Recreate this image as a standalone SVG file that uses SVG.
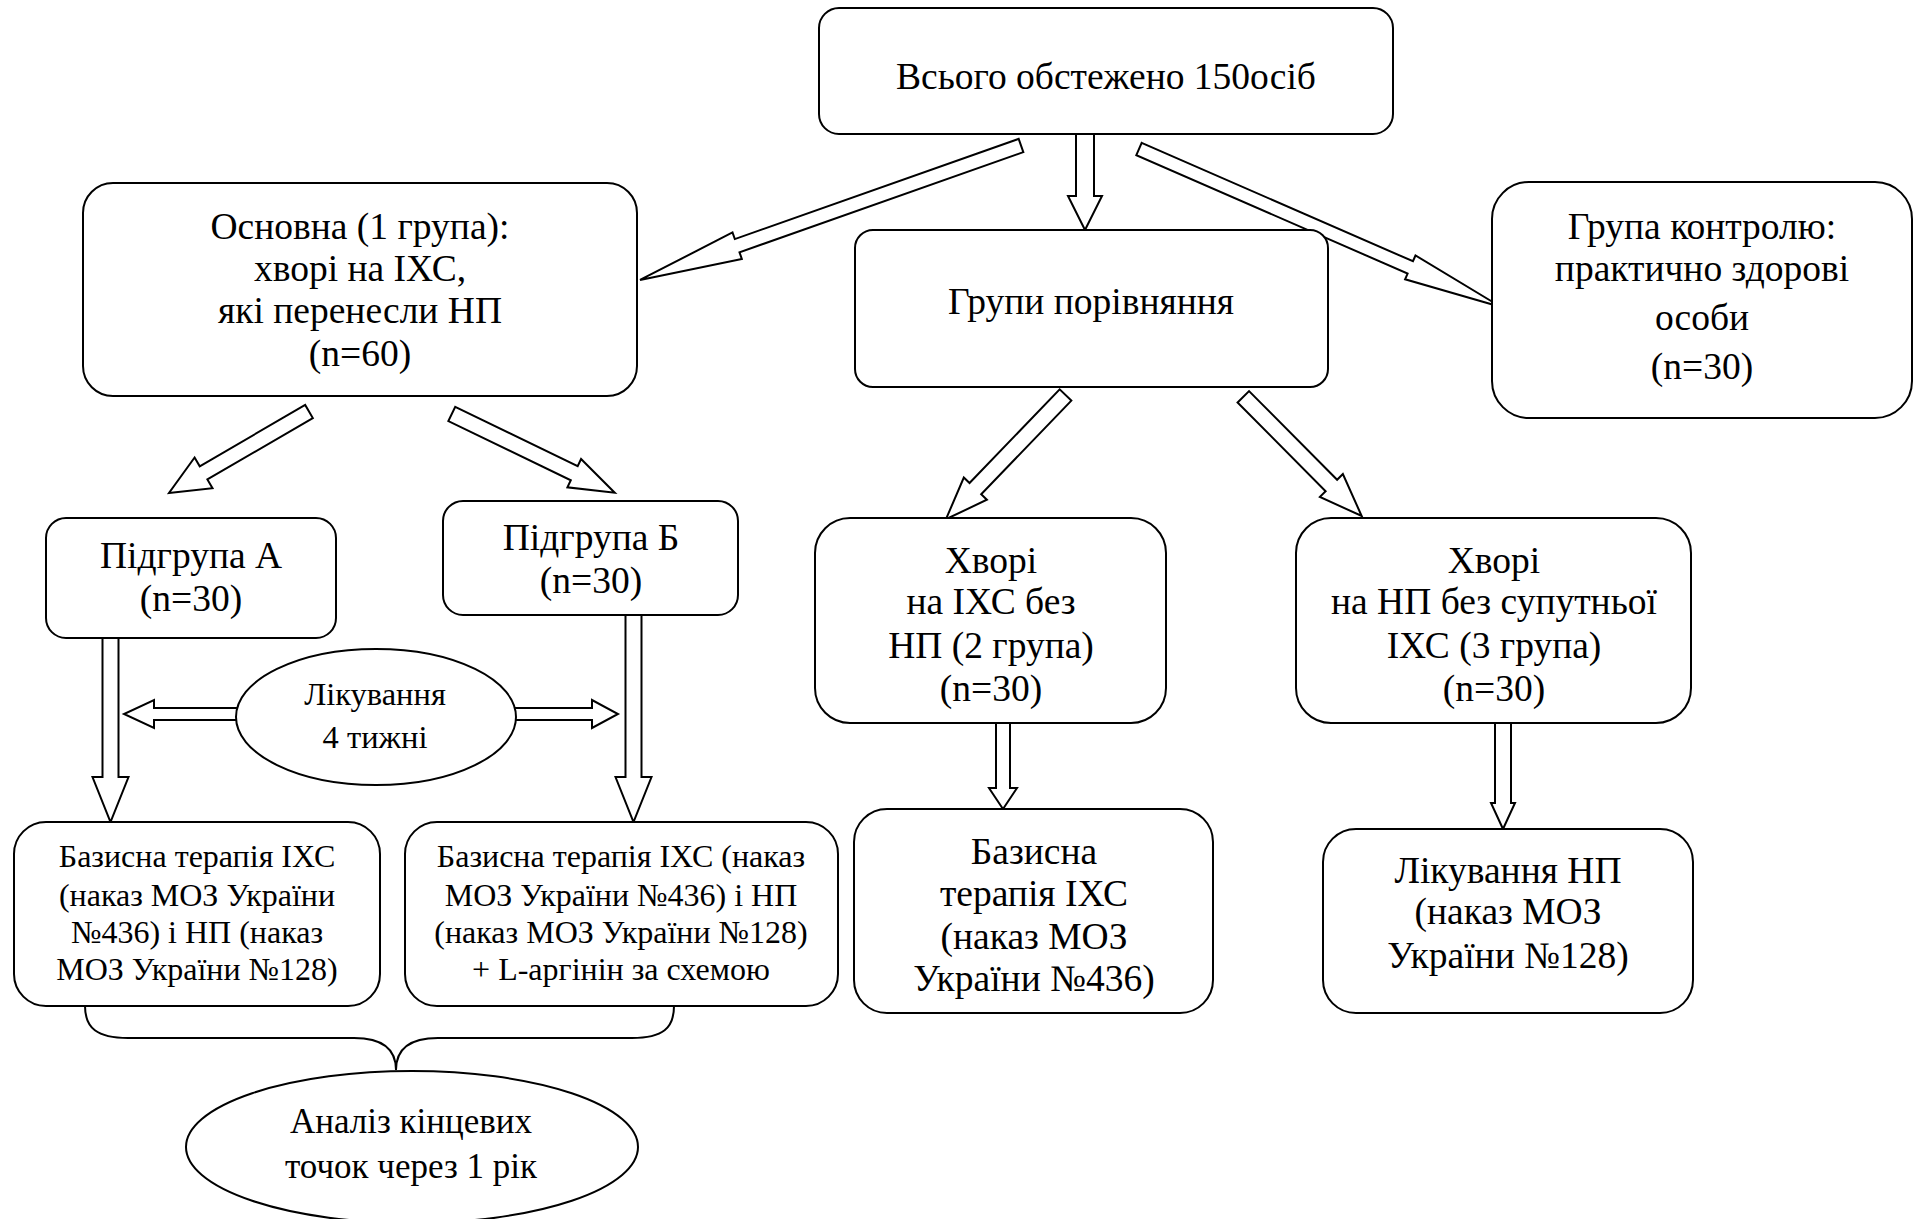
<svg xmlns="http://www.w3.org/2000/svg" width="1921" height="1219" viewBox="0 0 1921 1219">
<style>
.box{fill:#fff;stroke:#000;stroke-width:2}
.arr{fill:#fff;stroke:#000;stroke-width:2;stroke-linejoin:miter}
.brace{fill:none;stroke:#000;stroke-width:2}
text{font-family:"Liberation Serif","Times New Roman",serif;fill:#000;text-anchor:middle}
.t37{font-size:37.5px}
.t32{font-size:32px}
.t325{font-size:32.5px}
.t35{font-size:35px}
</style>
<rect width="1921" height="1219" fill="#fff"/>
<g id="connectors">
<polygon class="arr" points="0,-7 301,-7 301,-14 404,0 301,14 301,7 0,7" transform="translate(1021,145.5) rotate(160.56)"/>
<polygon class="arr" points="1076,134 1076,196 1068,196 1085,230 1102,196 1094,196 1094,134"/>
<polygon class="arr" points="0,-6.7 296,-6.7 296,-13 395,0 296,13 296,6.7 0,6.7" transform="translate(1139,149) rotate(23.58)"/>
<polygon class="arr" points="0,-7.6 122,-7.6 122,-17.8 162,0 122,17.8 122,7.6 0,7.6" transform="translate(309,411.5) rotate(149.8)"/>
<polygon class="arr" points="0,-7.9 136,-7.9 136,-15.7 181,0 136,15.7 136,7.9 0,7.9" transform="translate(451.8,414) rotate(25.8)"/>
<polygon class="arr" points="0,-8.1 130,-8.1 130,-16 172.4,0 130,16 130,8.1 0,8.1" transform="translate(1065.5,395) rotate(133.9)"/>
<polygon class="arr" points="0,-8.1 125,-8.1 125,-16.2 168,0 125,16.2 125,8.1 0,8.1" transform="translate(1243.3,396.8) rotate(45.2)"/>
<polygon class="arr" points="102.5,638 102.5,777 92.5,777 110.5,822 128.5,777 118.5,777 118.5,638"/>
<polygon class="arr" points="625.5,615 625.5,777 615.5,777 633.5,822 651.5,777 641.5,777 641.5,615"/>
<polygon class="arr" points="240,708 154,708 154,700 124,714 154,728 154,720 240,720"/>
<polygon class="arr" points="512,708 592,708 592,700 618,714 592,728 592,720 512,720"/>
<polygon class="arr" points="996,723 996,788 989,788 1003,809 1017,788 1010,788 1010,723"/>
<polygon class="arr" points="1495,723 1495,803 1491,803 1503,829 1515,803 1511,803 1511,723"/>
<path class="brace" d="M85,1006 C85,1028 97,1038 128,1038 L354,1038 C384,1038 396,1050 396,1070 C396,1050 408,1038 438,1038 L632,1038 C663,1038 674,1028 674,1006"/>
</g>
<g id="n-total">
<rect class="box" x="819" y="8" width="574" height="126" rx="20"/>
<text class="t37" x="1106" y="89">Всього обстежено 150осіб</text>
</g>
<g id="n-main">
<rect class="box" x="83" y="183" width="554" height="213" rx="30"/>
<text class="t37"><tspan x="360" y="239">Основна (1 група):</tspan><tspan x="360" y="281">хворі на ІХС,</tspan><tspan x="360" y="323">які перенесли НП</tspan><tspan x="360" y="366">(n=60)</tspan></text>
</g>
<g id="n-compare">
<rect class="box" x="855" y="230" width="473" height="157" rx="18"/>
<text class="t37" x="1091" y="314">Групи порівняння</text>
</g>
<g id="n-control">
<rect class="box" x="1492" y="182" width="420" height="236" rx="37"/>
<text class="t37"><tspan x="1702" y="239">Група контролю:</tspan><tspan x="1702" y="281">практично здорові</tspan><tspan x="1702" y="330">особи</tspan><tspan x="1702" y="379">(n=30)</tspan></text>
</g>
<g id="n-subA">
<rect class="box" x="46" y="518" width="290" height="120" rx="20"/>
<text class="t37"><tspan x="191" y="568">Підгрупа А</tspan><tspan x="191" y="611">(n=30)</tspan></text>
</g>
<g id="n-subB">
<rect class="box" x="443" y="501" width="295" height="114" rx="20"/>
<text class="t37"><tspan x="591" y="550">Підгрупа Б</tspan><tspan x="591" y="593">(n=30)</tspan></text>
</g>
<g id="n-group2">
<rect class="box" x="815" y="518" width="351" height="205" rx="35"/>
<text class="t37"><tspan x="991" y="573">Хворі</tspan><tspan x="991" y="614">на ІХС без</tspan><tspan x="991" y="658">НП (2 група)</tspan><tspan x="991" y="701">(n=30)</tspan></text>
</g>
<g id="n-group3">
<rect class="box" x="1296" y="518" width="395" height="205" rx="35"/>
<text class="t37"><tspan x="1494" y="573">Хворі</tspan><tspan x="1494" y="614">на НП без супутньої</tspan><tspan x="1494" y="658">ІХС (3 група)</tspan><tspan x="1494" y="701">(n=30)</tspan></text>
</g>
<g id="n-treat">
<ellipse class="box" cx="376" cy="717" rx="140" ry="68"/>
<text class="t325"><tspan x="375" y="705">Лікування</tspan><tspan x="375" y="748">4 тижні</tspan></text>
</g>
<g id="n-therA">
<rect class="box" x="14" y="822" width="366" height="184" rx="32"/>
<text class="t32"><tspan x="197" y="867">Базисна терапія ІХС</tspan><tspan x="197" y="906">(наказ МОЗ України</tspan><tspan x="197" y="943">№436) і НП (наказ</tspan><tspan x="197" y="980">МОЗ України №128)</tspan></text>
</g>
<g id="n-therB">
<rect class="box" x="405" y="822" width="433" height="184" rx="32"/>
<text class="t32"><tspan x="621" y="867">Базисна терапія ІХС (наказ</tspan><tspan x="621" y="906">МОЗ України №436) і НП</tspan><tspan x="621" y="943">(наказ МОЗ України №128)</tspan><tspan x="621" y="980">+ L-аргінін за схемою</tspan></text>
</g>
<g id="n-basic">
<rect class="box" x="854" y="809" width="359" height="204" rx="33"/>
<text class="t37"><tspan x="1034" y="864">Базисна</tspan><tspan x="1034" y="906">терапія ІХС</tspan><tspan x="1034" y="949">(наказ МОЗ</tspan><tspan x="1034" y="991">України №436)</tspan></text>
</g>
<g id="n-treatNP">
<rect class="box" x="1323" y="829" width="370" height="184" rx="33"/>
<text class="t37"><tspan x="1508" y="883">Лікування НП</tspan><tspan x="1508" y="924">(наказ МОЗ</tspan><tspan x="1508" y="968">України №128)</tspan></text>
</g>
<g id="n-analysis">
<ellipse class="box" cx="412" cy="1147" rx="226" ry="76"/>
<text class="t35"><tspan x="411" y="1133">Аналіз кінцевих</tspan><tspan x="411" y="1178">точок через 1 рік</tspan></text>
</g>
</svg>
